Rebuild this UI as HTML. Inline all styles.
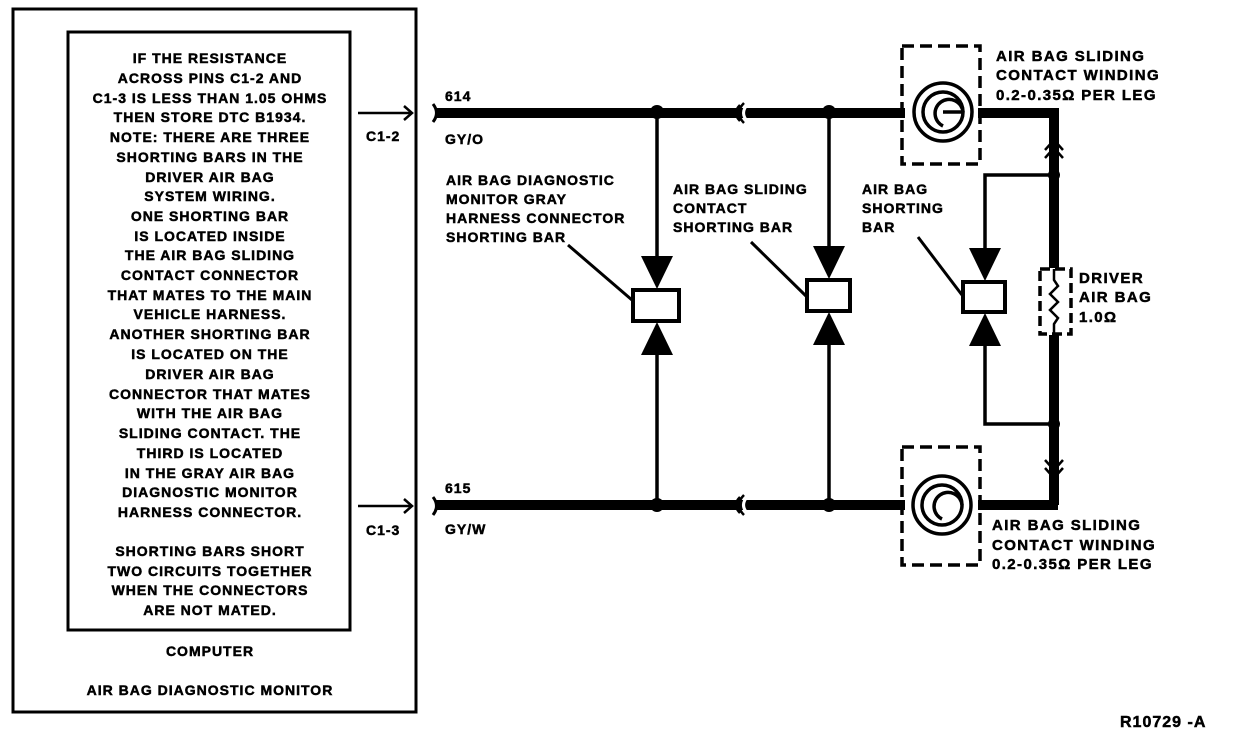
<!DOCTYPE html>
<html><head><meta charset="utf-8"><style>
html,body{margin:0;padding:0;background:#fff;}
svg{display:block}
text{font-family:"Liberation Sans",Arial,sans-serif;font-weight:bold;font-size:14px;fill:#000;stroke:#000;stroke-width:0.5;letter-spacing:1px}
.r{font-size:15px;letter-spacing:1.4px}
</style></head><body>
<svg width="1248" height="736" viewBox="0 0 1248 736" xmlns="http://www.w3.org/2000/svg">
<rect x="13" y="9" width="403" height="703" fill="none" stroke="#000" stroke-width="3"/>
<rect x="68" y="32" width="282" height="598" fill="none" stroke="#000" stroke-width="3"/>
<g text-anchor="middle">
<text x="210" y="63">IF THE RESISTANCE</text>
<text x="210" y="83">ACROSS PINS C1-2 AND</text>
<text x="210" y="103">C1-3 IS LESS THAN 1.05 OHMS</text>
<text x="210" y="122">THEN STORE DTC B1934.</text>
<text x="210" y="142">NOTE: THERE ARE THREE</text>
<text x="210" y="162">SHORTING BARS IN THE</text>
<text x="210" y="182">DRIVER AIR BAG</text>
<text x="210" y="201">SYSTEM WIRING.</text>
<text x="210" y="221">ONE SHORTING BAR</text>
<text x="210" y="241">IS LOCATED INSIDE</text>
<text x="210" y="260">THE AIR BAG SLIDING</text>
<text x="210" y="280">CONTACT CONNECTOR</text>
<text x="210" y="300">THAT MATES TO THE MAIN</text>
<text x="210" y="319">VEHICLE HARNESS.</text>
<text x="210" y="339">ANOTHER SHORTING BAR</text>
<text x="210" y="359">IS LOCATED ON THE</text>
<text x="210" y="379">DRIVER AIR BAG</text>
<text x="210" y="399">CONNECTOR THAT MATES</text>
<text x="210" y="418">WITH THE AIR BAG</text>
<text x="210" y="438">SLIDING CONTACT. THE</text>
<text x="210" y="458">THIRD IS LOCATED</text>
<text x="210" y="478">IN THE GRAY AIR BAG</text>
<text x="210" y="497">DIAGNOSTIC MONITOR</text>
<text x="210" y="517">HARNESS CONNECTOR.</text>
<text x="210" y="556">SHORTING BARS SHORT</text>
<text x="210" y="576">TWO CIRCUITS TOGETHER</text>
<text x="210" y="595">WHEN THE CONNECTORS</text>
<text x="210" y="615">ARE NOT MATED.</text>
<text x="210" y="656">COMPUTER</text>
<text x="210" y="695">AIR BAG DIAGNOSTIC MONITOR</text>
</g>
<g stroke="#000" stroke-width="2.5" fill="none">
<line x1="358" y1="113" x2="411" y2="113"/>
<polyline points="404,106 412,113 404,120"/>
<line x1="358" y1="506" x2="411" y2="506"/>
<polyline points="404,499 412,506 404,513"/>
<path d="M433,104 Q440,113 433,122" stroke-width="3"/>
<path d="M433,497 Q440,506 433,515" stroke-width="3"/>
</g>
<text x="366" y="141">C1-2</text>
<text x="366" y="535">C1-3</text>
<text x="445" y="101">614</text>
<text x="445" y="144">GY/O</text>
<text x="445" y="493">615</text>
<text x="445" y="534">GY/W</text>
<g stroke="#000" stroke-width="10" fill="none">
<line x1="436" y1="113" x2="905" y2="113"/>
<line x1="436" y1="505" x2="905" y2="505"/>
<polyline points="978,113 1054,113 1054,268"/>
<line x1="1054" y1="335" x2="1054" y2="505"/>
<line x1="978" y1="505" x2="1058" y2="505"/>
</g>
<g stroke="#fff" stroke-width="3" fill="none">
<path d="M748,104 Q739,113 748,122"/>
<path d="M748,496 Q739,505 748,514"/>
</g>
<g stroke="#000" stroke-width="2.5" fill="none">
<path d="M744,103 Q734,113 744,123"/><path d="M740,105 Q732,113 740,121"/>
<path d="M744,495 Q734,505 744,515"/><path d="M740,497 Q732,505 740,513"/>
</g>
<g fill="#000">
<circle cx="657" cy="112" r="7"/><circle cx="829" cy="112" r="7"/>
<circle cx="657" cy="505" r="7"/><circle cx="829" cy="505" r="7"/>
<circle cx="1054" cy="175" r="6"/><circle cx="1054" cy="424" r="6"/>
</g>
<g stroke="#000" stroke-width="2.5" fill="none">
<path d="M1045,150 L1054,140 L1063,150"/><path d="M1045,158 L1054,148 L1063,158"/>
<path d="M1045,460 L1054,470 L1063,460"/><path d="M1045,468 L1054,478 L1063,468"/>
</g>
<g stroke="#000" stroke-width="3.5" fill="none">
<line x1="657" y1="112" x2="657" y2="260"/>
<line x1="657" y1="350" x2="657" y2="505"/>
<line x1="829" y1="112" x2="829" y2="250"/>
<line x1="829" y1="340" x2="829" y2="505"/>
<polyline points="1054,175 985,175 985,250"/>
<polyline points="985,342 985,424 1054,424"/>
<rect x="633" y="290" width="46" height="31" stroke-width="4"/>
<rect x="807" y="280" width="43" height="31" stroke-width="4"/>
<rect x="963" y="282" width="42" height="30" stroke-width="4"/>
<line x1="568" y1="245" x2="632" y2="300" stroke-width="3"/>
<line x1="751" y1="242" x2="806" y2="296" stroke-width="3"/>
<line x1="918" y1="237" x2="962" y2="295" stroke-width="3"/>
</g>
<g fill="#000">
<polygon points="641,256 673,256 657,289"/><polygon points="641,355 673,355 657,322"/>
<polygon points="813,246 845,246 829,279"/><polygon points="813,345 845,345 829,312"/>
<polygon points="969,248 1001,248 985,281"/><polygon points="969,346 1001,346 985,313"/>
</g>
<g stroke="#000" stroke-width="3.5" fill="none">
<rect x="902" y="46" width="78" height="118" stroke-dasharray="12,6"/>
<rect x="902" y="447" width="78" height="118" stroke-dasharray="12,6"/>
<circle cx="943" cy="112" r="29"/><circle cx="943" cy="112" r="20"/>
<path d="M963,112 A14,14 0 1 0 943,126 M943,112 L963,112"/>
<circle cx="942" cy="505" r="29"/><circle cx="942" cy="505" r="20"/>
<path d="M962,505 A14,14 0 1 0 942,519"/>
<rect x="1040" y="269" width="31" height="65" stroke-dasharray="10,5"/>
<polyline points="1054,269 1054,280 1058,286 1050,294 1058,302 1050,310 1058,318 1054,324 1054,334" stroke-width="2.5"/>
</g>
<text class="r" x="996" y="61">AIR BAG SLIDING</text>
<text class="r" x="996" y="80">CONTACT WINDING</text>
<text class="r" x="996" y="100">0.2-0.35Ω PER LEG</text>
<text class="r" x="992" y="530">AIR BAG SLIDING</text>
<text class="r" x="992" y="550">CONTACT WINDING</text>
<text class="r" x="992" y="569">0.2-0.35Ω PER LEG</text>
<text class="r" x="1079" y="283">DRIVER</text>
<text class="r" x="1079" y="302">AIR BAG</text>
<text class="r" x="1079" y="322">1.0Ω</text>
<text x="446" y="185">AIR BAG DIAGNOSTIC</text>
<text x="446" y="204">MONITOR GRAY</text>
<text x="446" y="223">HARNESS CONNECTOR</text>
<text x="446" y="242">SHORTING BAR</text>
<text x="673" y="194">AIR BAG SLIDING</text>
<text x="673" y="213">CONTACT</text>
<text x="673" y="232">SHORTING BAR</text>
<text x="862" y="194">AIR BAG</text>
<text x="862" y="213">SHORTING</text>
<text x="862" y="232">BAR</text>
<text x="1120" y="727" style="font-size:16px">R10729 -A</text>
</svg>
</body></html>
